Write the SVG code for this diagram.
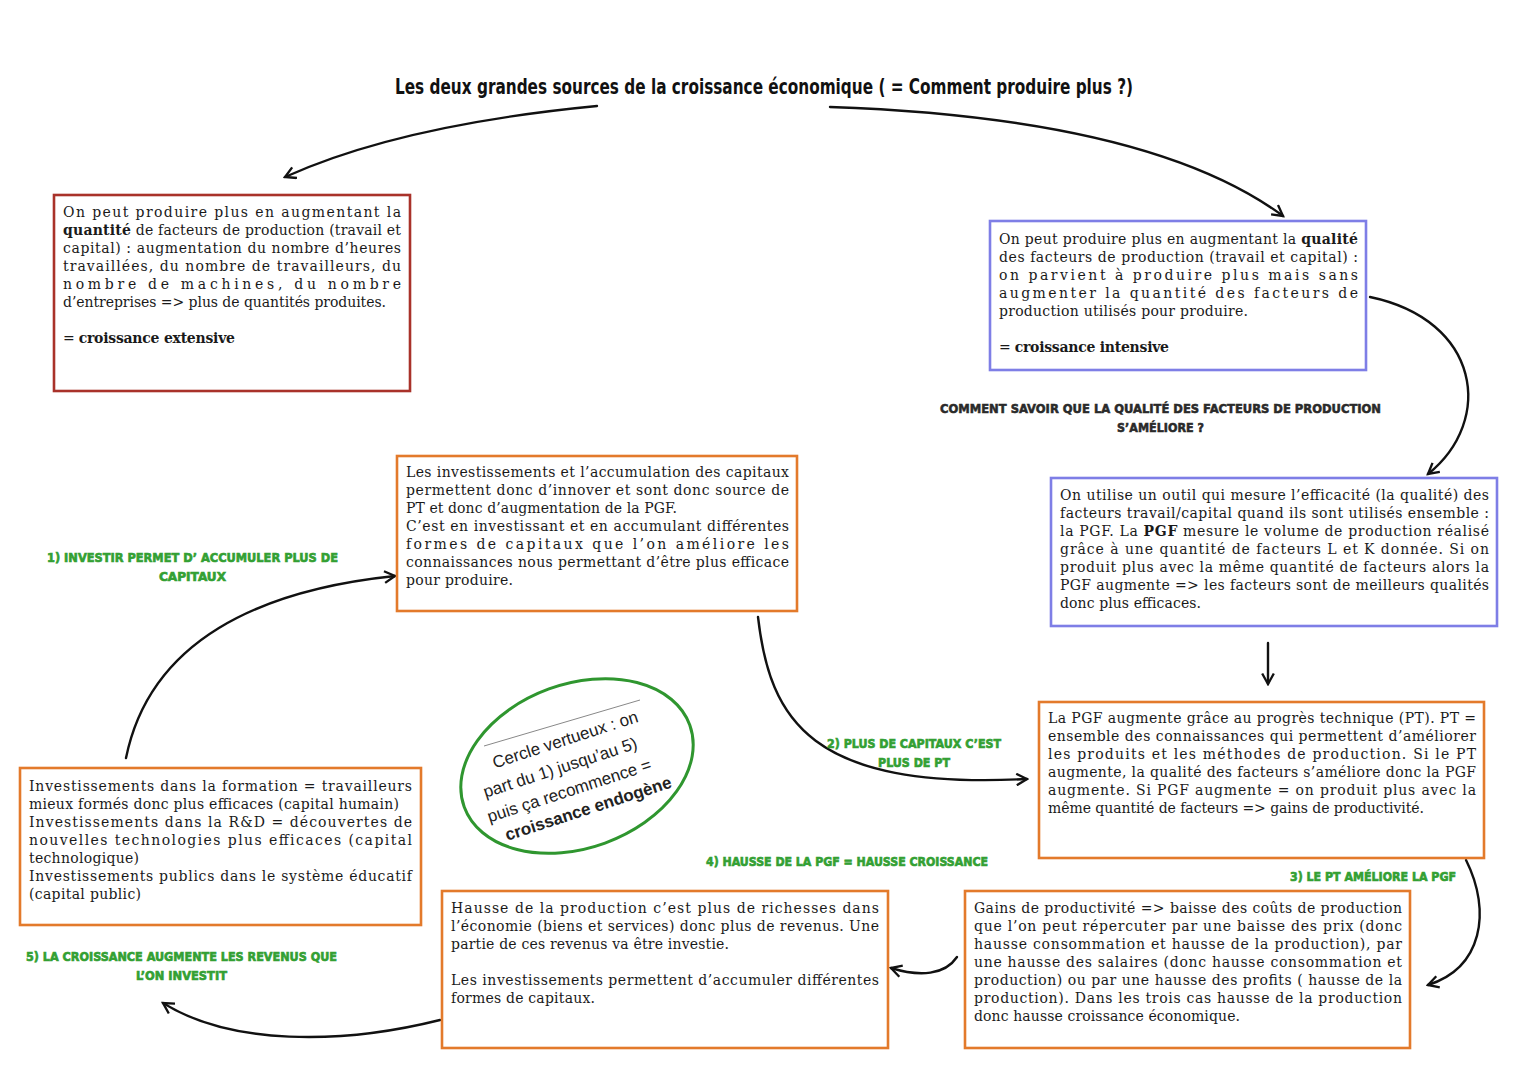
<svg xmlns="http://www.w3.org/2000/svg" width="1527" height="1080" viewBox="0 0 1527 1080">
<defs>
<style>
.t{font-family:"DejaVu Serif","Liberation Serif",serif;font-size:14px;fill:#1a1a1a}
.b{font-weight:bold}
.box{fill:#fff;stroke-width:2.6}
.red{stroke:#a9322a}
.blue{stroke:#7e7ee6}
.org{stroke:#e37a2b}
.g{font-family:"DejaVu Sans","Liberation Sans",sans-serif;font-weight:900;font-size:13px;fill:#33a033;stroke:#33a033;stroke-width:0.7}
.h{font-family:"DejaVu Sans","Liberation Sans",sans-serif;font-weight:900;font-size:13px;fill:#2a2a2a;stroke:#2a2a2a;stroke-width:0.6}
.title{font-family:"DejaVu Sans Condensed","Liberation Sans",sans-serif;font-weight:bold;font-size:21px;fill:#111}
.c{font-family:"Liberation Sans","Noto Sans",sans-serif;font-size:17px;fill:#222}
.con{fill:none;stroke:#111;stroke-width:2.4;stroke-linecap:round}
</style>
<marker id="ah" viewBox="0 0 12 12" refX="10" refY="6" markerWidth="14" markerHeight="14" markerUnits="userSpaceOnUse" orient="auto">
<path d="M1,1 L10,6 L1,11" fill="none" stroke="#111" stroke-width="2"/>
</marker>
</defs>
<rect width="1527" height="1080" fill="#fff"/>

<text class="title" x="395" y="94" textLength="738" lengthAdjust="spacingAndGlyphs">Les deux grandes sources de la croissance économique ( = Comment produire plus ?)</text>

<g id="connectors">
<path class="con" d="M597,106 Q400,125 285,177" marker-end="url(#ah)"/>
<path class="con" d="M830,107 Q1150,118 1283,216" marker-end="url(#ah)"/>
<path class="con" d="M1370,297 C1480,320 1495,420 1428,474" marker-end="url(#ah)"/>
<path class="con" d="M1268,643 L1268,684" marker-end="url(#ah)"/>
<path class="con" d="M1466,860 C1492,912 1482,968 1428,985" marker-end="url(#ah)"/>
<path class="con" d="M957,957 C945,975 920,977 891,968" marker-end="url(#ah)"/>
<path class="con" d="M440,1020 C340,1045 230,1045 163,1003" marker-end="url(#ah)"/>
<path class="con" d="M126,758 C150,640 260,590 395,576" marker-end="url(#ah)"/>
<path class="con" d="M758,617 C770,720 810,790 1027,779" marker-end="url(#ah)"/>
</g>

<g id="nodeA">
<rect class="box red" x="54" y="195" width="356" height="196"/>
<text class="t" x="63" y="217" textLength="338" lengthAdjust="spacing">On peut produire plus en augmentant la</text>
<text class="t" x="63" y="235" textLength="338" lengthAdjust="spacing"><tspan class="b">quantité</tspan> de facteurs de production (travail et</text>
<text class="t" x="63" y="253" textLength="338" lengthAdjust="spacing">capital) : augmentation du nombre d’heures</text>
<text class="t" x="63" y="271" textLength="338" lengthAdjust="spacing">travaillées, du nombre de travailleurs, du</text>
<text class="t" x="63" y="289" textLength="338" lengthAdjust="spacing">nombre de machines, du nombre</text>
<text class="t" x="63" y="307" textLength="323" lengthAdjust="spacing">d’entreprises => plus de quantités produites.</text>
<text class="t" x="63" y="343" textLength="172" lengthAdjust="spacing">= <tspan class="b">croissance extensive</tspan></text>
</g>

<g id="nodeB">
<rect class="box blue" x="990" y="221" width="376" height="149"/>
<text class="t" x="999" y="244" textLength="359" lengthAdjust="spacing">On peut produire plus en augmentant la <tspan class="b">qualité</tspan></text>
<text class="t" x="999" y="262" textLength="359" lengthAdjust="spacing">des facteurs de production (travail et capital) :</text>
<text class="t" x="999" y="280" textLength="359" lengthAdjust="spacing">on parvient à produire plus mais sans</text>
<text class="t" x="999" y="298" textLength="359" lengthAdjust="spacing">augmenter la quantité des facteurs de</text>
<text class="t" x="999" y="316" textLength="249" lengthAdjust="spacing">production utilisés pour produire.</text>
<text class="t" x="999" y="352" textLength="170" lengthAdjust="spacing">= <tspan class="b">croissance intensive</tspan></text>
</g>

<g id="question">
<text class="h" x="940" y="413" textLength="441" lengthAdjust="spacingAndGlyphs">COMMENT SAVOIR QUE LA QUALITÉ DES FACTEURS DE PRODUCTION</text>
<text class="h" x="1117" y="432" textLength="87" lengthAdjust="spacingAndGlyphs">S’AMÉLIORE ?</text>
</g>

<g id="nodeC">
<rect class="box blue" x="1051" y="478" width="446" height="148"/>
<text class="t" x="1060" y="500" textLength="429" lengthAdjust="spacing">On utilise un outil qui mesure l’efficacité (la qualité) des</text>
<text class="t" x="1060" y="518" textLength="429" lengthAdjust="spacing">facteurs travail/capital quand ils sont utilisés ensemble :</text>
<text class="t" x="1060" y="536" textLength="429" lengthAdjust="spacing">la PGF. La <tspan class="b">PGF</tspan> mesure le volume de production réalisé</text>
<text class="t" x="1060" y="554" textLength="429" lengthAdjust="spacing">grâce à une quantité de facteurs L et K donnée. Si on</text>
<text class="t" x="1060" y="572" textLength="429" lengthAdjust="spacing">produit plus avec la même quantité de facteurs alors la</text>
<text class="t" x="1060" y="590" textLength="429" lengthAdjust="spacing">PGF augmente => les facteurs sont de meilleurs qualités</text>
<text class="t" x="1060" y="608" textLength="141" lengthAdjust="spacing">donc plus efficaces.</text>
</g>

<g id="nodeD">
<rect class="box org" x="1039" y="702" width="445" height="156"/>
<text class="t" x="1048" y="723" textLength="428" lengthAdjust="spacing">La PGF augmente grâce au progrès technique (PT). PT =</text>
<text class="t" x="1048" y="741" textLength="428" lengthAdjust="spacing">ensemble des connaissances qui permettent d’améliorer</text>
<text class="t" x="1048" y="759" textLength="428" lengthAdjust="spacing">les produits et les méthodes de production. Si le PT</text>
<text class="t" x="1048" y="777" textLength="428" lengthAdjust="spacing">augmente, la qualité des facteurs s’améliore donc la PGF</text>
<text class="t" x="1048" y="795" textLength="428" lengthAdjust="spacing">augmente. Si PGF augmente = on produit plus avec la</text>
<text class="t" x="1048" y="813" textLength="376" lengthAdjust="spacing">même quantité de facteurs => gains de productivité.</text>
</g>

<g id="nodeE">
<rect class="box org" x="965" y="891" width="445" height="157"/>
<text class="t" x="974" y="913" textLength="428" lengthAdjust="spacing">Gains de productivité => baisse des coûts de production</text>
<text class="t" x="974" y="931" textLength="428" lengthAdjust="spacing">que l’on peut répercuter par une baisse des prix (donc</text>
<text class="t" x="974" y="949" textLength="428" lengthAdjust="spacing">hausse consommation et hausse de la production), par</text>
<text class="t" x="974" y="967" textLength="428" lengthAdjust="spacing">une hausse des salaires (donc hausse consommation et</text>
<text class="t" x="974" y="985" textLength="428" lengthAdjust="spacing">production) ou par une hausse des profits ( hausse de la</text>
<text class="t" x="974" y="1003" textLength="428" lengthAdjust="spacing">production). Dans les trois cas hausse de la production</text>
<text class="t" x="974" y="1021" textLength="266" lengthAdjust="spacing">donc hausse croissance économique.</text>
</g>

<g id="nodeF">
<rect class="box org" x="442" y="891" width="446" height="157"/>
<text class="t" x="451" y="913" textLength="428" lengthAdjust="spacing">Hausse de la production c’est plus de richesses dans</text>
<text class="t" x="451" y="931" textLength="428" lengthAdjust="spacing">l’économie (biens et services) donc plus de revenus. Une</text>
<text class="t" x="451" y="949" textLength="278" lengthAdjust="spacing">partie de ces revenus va être investie.</text>
<text class="t" x="451" y="985" textLength="428" lengthAdjust="spacing">Les investissements permettent d’accumuler différentes</text>
<text class="t" x="451" y="1003" textLength="144" lengthAdjust="spacing">formes de capitaux.</text>
</g>

<g id="nodeG">
<rect class="box org" x="20" y="768" width="401" height="157"/>
<text class="t" x="29" y="791" textLength="383" lengthAdjust="spacing">Investissements dans la formation = travailleurs</text>
<text class="t" x="29" y="809" textLength="370" lengthAdjust="spacing">mieux formés donc plus efficaces (capital humain)</text>
<text class="t" x="29" y="827" textLength="383" lengthAdjust="spacing">Investissements dans la R&amp;D = découvertes de</text>
<text class="t" x="29" y="845" textLength="383" lengthAdjust="spacing">nouvelles technologies plus efficaces (capital</text>
<text class="t" x="29" y="863" textLength="110" lengthAdjust="spacing">technologique)</text>
<text class="t" x="29" y="881" textLength="383" lengthAdjust="spacing">Investissements publics dans le système éducatif</text>
<text class="t" x="29" y="899" textLength="112" lengthAdjust="spacing">(capital public)</text>
</g>

<g id="nodeH">
<rect class="box org" x="397" y="456" width="400" height="155"/>
<text class="t" x="406" y="477" textLength="383" lengthAdjust="spacing">Les investissements et l’accumulation des capitaux</text>
<text class="t" x="406" y="495" textLength="383" lengthAdjust="spacing">permettent donc d’innover et sont donc source de</text>
<text class="t" x="406" y="513" textLength="271" lengthAdjust="spacing">PT et donc d’augmentation de la PGF.</text>
<text class="t" x="406" y="531" textLength="383" lengthAdjust="spacing">C’est en investissant et en accumulant différentes</text>
<text class="t" x="406" y="549" textLength="383" lengthAdjust="spacing">formes de capitaux que l’on améliore les</text>
<text class="t" x="406" y="567" textLength="383" lengthAdjust="spacing">connaissances nous permettant d’être plus efficace</text>
<text class="t" x="406" y="585" textLength="107" lengthAdjust="spacing">pour produire.</text>
</g>

<g id="labels">
<text class="g" x="47" y="562" textLength="291" lengthAdjust="spacingAndGlyphs">1) INVESTIR  PERMET D’ ACCUMULER PLUS DE</text>
<text class="g" x="159" y="581" textLength="67" lengthAdjust="spacingAndGlyphs">CAPITAUX</text>
<text class="g" x="827" y="748" textLength="174" lengthAdjust="spacingAndGlyphs">2) PLUS DE CAPITAUX C’EST</text>
<text class="g" x="878" y="767" textLength="72" lengthAdjust="spacingAndGlyphs">PLUS DE PT</text>
<text class="g" x="1290" y="881" textLength="166" lengthAdjust="spacingAndGlyphs">3) LE PT AMÉLIORE LA PGF</text>
<text class="g" x="706" y="866" textLength="282" lengthAdjust="spacingAndGlyphs">4) HAUSSE DE LA PGF = HAUSSE CROISSANCE</text>
<text class="g" x="26" y="961" textLength="311" lengthAdjust="spacingAndGlyphs">5) LA CROISSANCE AUGMENTE LES REVENUS QUE</text>
<text class="g" x="136" y="980" textLength="91" lengthAdjust="spacingAndGlyphs">L’ON INVESTIT</text>
</g>

<g id="cercle">
<ellipse cx="577" cy="766" rx="120" ry="82" transform="rotate(-20 577 766)" fill="#fff" stroke="#2f962f" stroke-width="3"/>
<line x1="484" y1="746" x2="640" y2="700" stroke="#888" stroke-width="1"/>
<text class="c" text-anchor="middle" transform="translate(567,745) rotate(-18)">Cercle vertueux : on</text>
<text class="c" text-anchor="middle" transform="translate(562,773) rotate(-18)">part du 1) jusqu’au 5)</text>
<text class="c" text-anchor="middle" transform="translate(571,796) rotate(-18)">puis ça recommence =</text>
<text class="c b" text-anchor="middle" transform="translate(590,814) rotate(-18)">croissance endogène</text>
</g>
</svg>
